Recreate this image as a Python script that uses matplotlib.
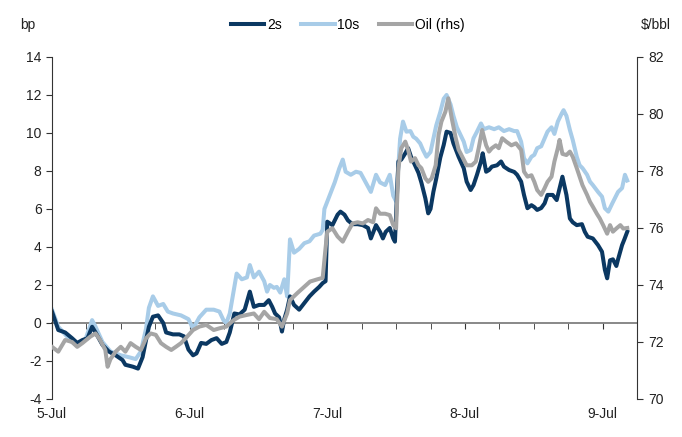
import matplotlib
matplotlib.use("Agg")
import matplotlib.pyplot as plt
import matplotlib.ticker as ticker

plt.rcParams["font.family"] = ["Liberation Sans", "DejaVu Sans"]
plt.rcParams["font.size"] = 10
plt.rcParams["axes.unicode_minus"] = False

# hours since 5-Jul 00:00
hours_2s = [0, 1.1, 2.3, 3.5, 4.4, 5.3, 6.2, 7.0, 7.6, 8.8, 9.9, 11.1, 12.3, 12.8, 14.1, 15.0,
            15.8, 16.4, 16.9, 17.6, 18.5, 19.4, 19.9, 21.1, 22.2, 23.0, 23.8, 24.6, 25.2, 26.0,
            26.9, 27.8, 28.7, 29.6, 30.4, 31.0, 31.8, 32.7, 33.6, 34.5, 35.2, 36.1, 37.0, 37.8,
            38.4, 38.9, 39.6, 40.1, 40.5, 41.0, 41.5, 42.2, 43.1, 44.0, 44.9, 45.7, 46.6, 47.2,
            47.7, 48.0, 48.9, 49.8, 50.3, 51.0, 51.6, 52.4, 53.3, 54.2, 55.1, 55.6, 56.5, 57.2,
            57.7, 58.2, 58.9, 59.5, 59.8, 60.4, 60.9, 61.6, 62.1, 62.6, 63.3, 63.9, 64.4, 65.1,
            65.6, 66.0, 66.5, 67.0, 67.7, 68.3, 68.8, 69.5, 70.0, 70.9, 71.8, 72.3, 73.0, 73.5,
            74.1, 74.8, 75.1, 75.7, 76.2, 76.7, 77.6, 78.3, 78.8, 79.7, 80.6, 81.1, 81.8, 82.3,
            82.9, 83.6, 84.1, 84.6, 85.3, 85.9, 86.4, 87.3, 88.0, 88.5, 89.0, 89.7, 90.3, 90.8,
            91.5, 92.4, 92.9, 93.4, 94.3, 95.2, 95.9, 96.4, 96.8, 97.3, 97.8, 98.4, 98.7, 99.4,
            99.8, 100.3]
bp_2s = [0.6, -0.37, -0.5, -0.8, -1.05, -0.9, -0.8, -0.2, -0.5, -1.15, -1.5, -1.7, -1.95, -2.2,
         -2.3, -2.4, -1.8, -0.9, -0.2, 0.33, 0.4, 0.0, -0.5, -0.6, -0.6, -0.7, -1.4, -1.7, -1.6,
         -1.05, -1.1, -0.9, -0.8, -1.1, -1.0, -0.5, 0.5, 0.45, 0.7, 1.65, 0.85, 0.95, 0.95, 1.2,
         0.85, 0.5, 0.3, -0.45, 0.2, 0.7, 1.4, 0.95, 0.7, 1.05, 1.4, 1.65, 1.9, 2.1,
         2.2, 5.33, 5.15, 5.7, 5.86, 5.7, 5.4, 5.2, 5.2, 5.15, 5.0, 4.45, 5.15, 4.8,
         4.45, 4.8, 5.0, 4.45, 4.28, 8.5, 8.6, 8.93, 9.2, 8.75, 8.3, 7.9, 7.4, 6.56,
         5.77, 6.0, 6.9, 7.6, 8.7, 9.37, 10.07, 10.0, 9.45, 8.75, 8.14, 7.44, 7.0, 7.26,
         7.8, 8.5, 8.93, 7.96, 8.05, 8.23, 8.3, 8.5, 8.23, 8.05, 7.95, 7.8, 7.44, 6.74,
         6.04, 6.2, 6.1, 5.95, 6.05, 6.3, 6.74, 6.74, 6.47, 7.09, 7.7, 6.74, 5.5, 5.3,
         5.15, 5.2, 4.8, 4.54, 4.45, 4.1, 3.75, 2.8, 2.35, 3.3, 3.35, 3.0, 3.35, 4.1,
         4.4, 4.8]

hours_10s = [0, 1.1, 2.3, 3.5, 4.4, 5.8, 7.0, 7.6, 8.8, 10.2, 12.0, 13.4, 14.6, 15.5, 16.4,
             16.9, 17.6, 18.5, 19.4, 20.2, 21.1, 22.5, 23.8, 24.6, 25.7, 26.9, 28.2, 29.2,
             29.9, 30.4, 31.0, 31.7, 32.2, 33.1, 34.0, 34.5, 35.2, 36.1, 37.0, 37.5, 38.0,
             38.7, 39.2, 39.8, 40.5, 41.0, 41.5, 42.2, 43.1, 44.0, 44.9, 45.7, 46.8, 47.2,
             47.5, 48.4, 49.3, 50.1, 50.7, 51.2, 52.1, 53.0, 53.8, 54.7, 55.6, 56.5, 57.2,
             58.1, 58.9, 59.5, 60.0, 60.7, 61.2, 61.8, 62.5, 63.0, 63.5, 64.2, 64.7, 65.3,
             66.0, 66.5, 67.0, 67.7, 68.3, 68.8, 69.5, 70.0, 70.6, 71.4, 71.8, 72.3, 73.0,
             73.5, 74.1, 74.8, 75.3, 76.2, 77.1, 77.9, 78.8, 79.7, 80.6, 81.1, 81.8, 82.3,
             82.9, 83.6, 84.1, 84.6, 85.3, 85.9, 86.4, 87.1, 87.6, 88.2, 88.9, 89.2, 89.7,
             90.3, 90.8, 91.5, 92.0, 92.5, 93.3, 93.8, 94.3, 95.2, 95.9, 96.4, 97.0, 97.7,
             98.2, 98.7, 99.4, 99.9, 100.3]
bp_10s = [0.7, -0.2, -0.6, -1.0, -1.2, -0.9, 0.15, -0.2, -1.0, -1.5, -1.7, -1.8, -1.9, -1.5,
          -0.3, 0.8, 1.4, 0.9, 1.0, 0.6, 0.5, 0.4, 0.2, -0.3, 0.3, 0.7, 0.7, 0.6,
          0.15, 0.0, 0.5, 1.74, 2.6, 2.3, 2.4, 3.05, 2.4, 2.7, 2.2, 1.65, 2.0,
          1.85, 1.9, 1.6, 2.3, 1.4, 4.4, 3.7, 3.9, 4.2, 4.3, 4.6, 4.7, 4.9,
          6.0, 6.7, 7.4, 8.14, 8.6, 7.96, 7.8, 7.96, 7.9, 7.4, 6.9, 7.8, 7.4,
          7.26, 7.8, 6.7, 6.4, 9.7, 10.6, 10.07, 10.1, 9.8, 9.7, 9.45, 9.1, 8.75,
          9.0, 9.7, 10.4, 11.1, 11.8, 12.0, 11.5, 10.9, 10.3, 9.8, 9.54, 9.0, 9.1,
          9.72, 10.07, 10.5, 10.2, 10.3, 10.2, 10.3, 10.1, 10.2, 10.1, 10.1, 9.54, 8.67,
          8.4, 8.75, 8.85, 9.2, 9.3, 9.72, 10.07, 10.3, 9.95, 10.6, 11.04, 11.2, 10.9,
          10.16, 9.63, 8.75, 8.3, 8.15, 7.8, 7.44, 7.26, 6.9, 6.65, 6.04, 5.86, 6.3,
          6.6, 6.9, 7.1, 7.8, 7.5]

hours_oil = [0, 1.1, 2.3, 3.5, 4.4, 5.3, 6.7, 7.6, 8.4, 9.3, 9.7, 10.2, 11.1, 12.0, 12.8,
             13.7, 14.6, 15.5, 16.4, 17.2, 18.1, 19.0, 19.9, 20.8, 21.6, 22.5, 23.4, 24.6,
             25.7, 26.9, 28.2, 29.2, 30.4, 31.7, 32.7, 34.0, 35.2, 36.1, 37.0, 38.0, 39.2,
             40.1, 41.0, 41.5, 42.8, 44.0, 45.0, 46.3, 47.2, 47.7, 48.0, 48.9, 49.8, 50.7,
             51.6, 52.4, 53.3, 54.2, 55.1, 56.0, 56.5, 57.2, 58.1, 58.9, 59.5, 60.0, 60.4,
             60.9, 61.6, 62.1, 62.6, 63.3, 63.9, 64.4, 65.1, 65.6, 66.2, 66.9, 67.4, 67.9,
             68.6, 69.1, 69.7, 70.4, 70.9, 71.8, 72.3, 73.2, 73.9, 74.4, 75.0, 75.7, 76.2,
             76.7, 77.4, 77.9, 78.5, 79.2, 80.1, 80.9, 81.8, 82.3, 82.9, 83.6, 84.1, 84.6,
             85.3, 85.9, 86.4, 87.1, 87.6, 88.2, 88.5, 89.0, 89.7, 90.3, 90.8, 91.5, 92.0,
             92.5, 93.3, 93.8, 94.3, 95.0, 95.5, 96.1, 96.8, 97.3, 97.8, 98.5, 99.1, 99.6,
             100.3]
usd_oil = [71.83, 71.66, 72.07, 72.0, 71.83, 71.96, 72.19, 72.3, 72.07, 71.72, 71.13, 71.4,
           71.66, 71.83, 71.66, 71.96, 71.83, 71.72, 72.13, 72.3, 72.25, 71.96, 71.83, 71.72,
           71.83, 71.96, 72.15, 72.42, 72.54, 72.6, 72.42, 72.48, 72.54, 72.77, 72.89, 72.95,
           73.0, 72.8, 73.06, 72.84, 72.8, 72.54, 73.0, 73.47, 73.72, 73.94, 74.12, 74.2,
           74.25, 75.29, 75.87, 75.99, 75.7, 75.52, 75.87, 76.16, 76.2, 76.16, 76.28, 76.2,
           76.69, 76.5, 76.5, 76.45, 76.1, 75.99, 78.1, 78.8, 79.03, 78.74, 78.33, 78.45,
           78.2, 78.1, 77.74, 77.62, 77.74, 78.2, 79.26, 79.73, 80.08, 80.55, 79.85, 79.15,
           78.75, 78.4, 78.2, 78.2, 78.33, 78.8, 79.44, 78.9, 78.68, 78.8, 78.9, 78.8,
           79.15, 79.03, 78.9, 78.97, 78.74, 77.98, 77.8, 77.85, 77.62, 77.33, 77.16, 77.4,
           77.62, 77.8, 78.33, 78.8, 79.09, 78.6, 78.56, 78.68, 78.5, 78.1, 77.8, 77.5,
           77.16, 76.92, 76.75, 76.5, 76.34, 76.1, 75.8, 76.1, 75.87, 76.0, 76.1, 75.98,
           76.0]

day_labels = ["5-Jul", "6-Jul", "7-Jul", "8-Jul", "9-Jul"]

c_2s = "#0b3862"
c_10s = "#a8cce8"
c_oil = "#a5a5a5"
lw = 2.9

fig = plt.figure(figsize=(6.82, 4.37), dpi=100)
ax = fig.add_axes([0.0762, 0.087, 0.8578, 0.7826])

ax.plot(hours_10s, bp_10s, color=c_10s, lw=lw, label="10s")
ax.plot(hours_2s, bp_2s, color=c_2s, lw=lw, label="2s")
ax.set_xlim(0, 102)
ax.set_ylim(-4, 14)
ax.yaxis.set_major_locator(ticker.MultipleLocator(2))

ax2 = ax.twinx()
ax2.plot(hours_oil, usd_oil, color=c_oil, lw=lw, label="Oil (rhs)")
ax2.set_ylim(70, 82)
ax2.yaxis.set_major_locator(ticker.MultipleLocator(2))

for a in (ax, ax2):
    a.spines["top"].set_visible(False)
    a.spines["bottom"].set_visible(False)
    a.spines["left"].set_color("#333333")
    a.spines["right"].set_color("#333333")
    a.tick_params(axis="y", direction="out", length=4, color="#333333", labelcolor="#222222")
ax.spines["right"].set_visible(False)
ax2.spines["left"].set_visible(False)
ax2.tick_params(axis="y", pad=4)

# date labels along the bottom, tick marks on the zero line
ax.set_xticks([0, 24, 48, 72, 96])
ax.set_xticklabels(day_labels)
ax.tick_params(axis="x", length=0, pad=6, labelcolor="#222222")

zero = ax.secondary_xaxis(4 / 18)
zero.spines["bottom"].set_color("#7f7f7f")
zero.spines["bottom"].set_linewidth(1.3)
zero.set_xticks([0, 24, 48, 72, 96])
zero.xaxis.set_minor_locator(ticker.MultipleLocator(6))
zero.tick_params(axis="x", which="both", direction="out", length=4, color="#333333",
                 labelbottom=False)

fig.text(0.041, 0.943, "bp", ha="center", va="center", color="#222222")
fig.text(0.962, 0.943, r"\$/bbl", ha="center", va="center", color="#222222")

h1, l1 = ax.get_legend_handles_labels()
h2, l2 = ax2.get_legend_handles_labels()
handles = [h1[1], h1[0], h2[0]]
labels = [l1[1], l1[0], l2[0]]
fig.legend(handles, labels, loc="center", bbox_to_anchor=(0.51, 0.943), ncol=3,
           frameon=False, handlelength=2.4, handletextpad=0.2, columnspacing=1.4)

fig.savefig("out.png", dpi=100)
